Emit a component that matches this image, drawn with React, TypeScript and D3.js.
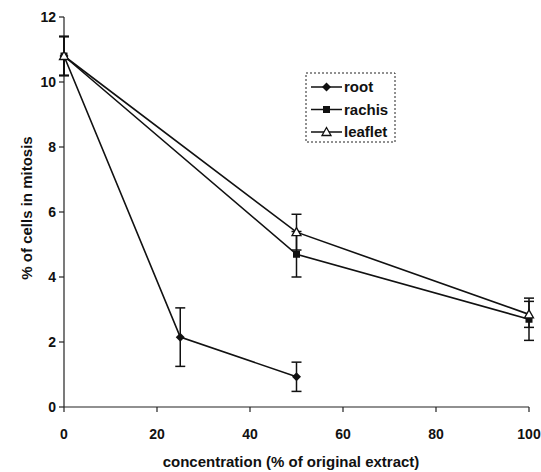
import React from "react";
import * as d3 from "d3";

const concentrations = [0, 25, 50, 100];
const rootValues = [10.8, 2.15, 0.93];
const rootErrors = [0.6, 0.9, 0.45];
const rootX = [0, 25, 50];
const rachisValues = [10.8, 4.7, 2.7];
const rachisErrors = [0.6, 0.7, 0.65];
const rachisX = [0, 50, 100];
const leafletValues = [10.8, 5.38, 2.85];
const leafletErrors = [0.6, 0.55, 0.4];
const leafletX = [0, 50, 100];
const xTicks = [0, 20, 40, 60, 80, 100];
const yTicks = [0, 2, 4, 6, 8, 10, 12];
const seriesNames = ["root", "rachis", "leaflet"];

const W = 541, H = 472;
const left = 64, right = 529, top = 17, bottom = 407;

export default function App() {
  const x = d3.scaleLinear().domain([0, 100]).range([left, right]);
  const y = d3.scaleLinear().domain([0, 12]).range([bottom, top]);
  const line = d3.line<[number, number]>().x(d => x(d[0])).y(d => y(d[1]));
  const font = "Arial, 'Liberation Sans', sans-serif";

  const series = [
    { name: "root", xs: rootX, vs: rootValues, es: rootErrors, marker: "diamond" },
    { name: "rachis", xs: rachisX, vs: rachisValues, es: rachisErrors, marker: "square" },
    { name: "leaflet", xs: leafletX, vs: leafletValues, es: leafletErrors, marker: "triangle" },
  ];

  const marker = (type: string, cx: number, cy: number, key: string) => {
    if (type === "diamond")
      return <path key={key} d={`M${cx},${cy - 4.5}L${cx + 4.5},${cy}L${cx},${cy + 4.5}L${cx - 4.5},${cy}Z`} fill="#111" />;
    if (type === "square")
      return <rect key={key} x={cx - 3.5} y={cy - 3.5} width={7} height={7} fill="#111" />;
    return <path key={key} d={`M${cx},${cy - 4.5}L${cx + 4.5},${cy + 3.5}L${cx - 4.5},${cy + 3.5}Z`} fill="#fff" stroke="#111" strokeWidth={1.3} />;
  };

  return (
    <svg width={W} height={H} style={{ position: "absolute", left: 0, top: 0, background: "#fff" }}>
      <rect width={W} height={H} fill="#fff" />
      {/* axes */}
      <line x1={left} x2={left} y1={top} y2={bottom} stroke="#222" strokeWidth={1.2} />
      <line x1={left} x2={right} y1={bottom} y2={bottom} stroke="#222" strokeWidth={1.2} />
      {yTicks.map(t => (
        <g key={"y" + t}>
          <line x1={left - 5} x2={left} y1={y(t)} y2={y(t)} stroke="#222" strokeWidth={1.2} />
          <text x={left - 8} y={y(t)} dy="0.35em" textAnchor="end" fontFamily={font} fontWeight="bold" fontSize={14} fill="#111">{t}</text>
        </g>
      ))}
      {xTicks.map(t => (
        <g key={"x" + t}>
          <line x1={x(t)} x2={x(t)} y1={bottom} y2={bottom + 5} stroke="#222" strokeWidth={1.2} />
          <text x={x(t)} y={439} textAnchor="middle" fontFamily={font} fontWeight="bold" fontSize={14} fill="#111">{t}</text>
        </g>
      ))}
      <text x={291} y={467} textAnchor="middle" fontFamily={font} fontWeight="bold" fontSize={15} fill="#111">concentration (% of original extract)</text>
      <text transform={`translate(32,208) rotate(-90)`} textAnchor="middle" fontFamily={font} fontWeight="bold" fontSize={15} fill="#111">% of cells in mitosis</text>

      {series.map(s => {
        const pts: [number, number][] = s.xs.map((xv, i) => [xv, s.vs[i]]);
        return (
          <g key={s.name}>
            <path d={line(pts) || ""} fill="none" stroke="#111" strokeWidth={1.6} />
            {pts.map((p, i) => (
              <g key={i}>
                <line x1={x(p[0])} x2={x(p[0])} y1={y(p[1] + s.es[i])} y2={y(p[1] - s.es[i])} stroke="#111" strokeWidth={1.5} />
                <line x1={x(p[0]) - 5} x2={x(p[0]) + 5} y1={y(p[1] + s.es[i])} y2={y(p[1] + s.es[i])} stroke="#111" strokeWidth={1.5} />
                <line x1={x(p[0]) - 5} x2={x(p[0]) + 5} y1={y(p[1] - s.es[i])} y2={y(p[1] - s.es[i])} stroke="#111" strokeWidth={1.5} />
              </g>
            ))}
            {pts.map((p, i) => marker(s.marker, x(p[0]), y(p[1]), s.name + i))}
          </g>
        );
      })}

      {/* legend */}
      <rect x={306} y={73} width={89} height={69} fill="#fff" stroke="#222" strokeWidth={1} strokeDasharray="2,2" />
      {seriesNames.map((n, i) => {
        const ly = 87 + i * 22.5;
        const s = series[i];
        return (
          <g key={n}>
            <line x1={311} x2={342} y1={ly} y2={ly} stroke="#111" strokeWidth={1.5} />
            {marker(s.marker, 326.5, ly, "lg" + n)}
            <text x={344} y={ly} dy="0.35em" fontFamily={font} fontWeight="bold" fontSize={15} fill="#111">{n}</text>
          </g>
        );
      })}
    </svg>
  );
}
